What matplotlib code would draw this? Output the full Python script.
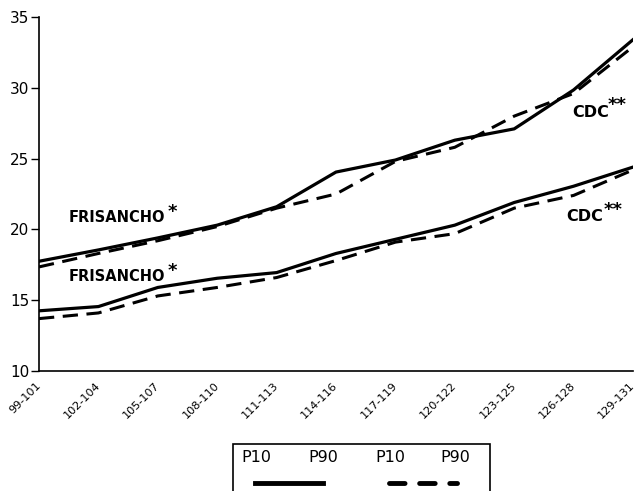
import matplotlib
matplotlib.use('Agg')
import matplotlib.pyplot as plt
from matplotlib.lines import Line2D
from matplotlib.patches import Rectangle

# age groups (months) on the x axis
groups = ['99-101', '102-104', '105-107', '108-110', '111-113', '114-116',
          '117-119', '120-122', '123-125', '126-128', '129-131']

fris_p90 = [17.75, 18.55, 19.4, 20.3, 21.6, 24.05, 24.9, 26.3, 27.1, 29.85, 33.4]
cdc_p90 = [17.35, 18.3, 19.2, 20.2, 21.5, 22.5, 24.8, 25.8, 28.0, 29.6, 32.9]
fris_p10 = [14.25, 14.55, 15.9, 16.55, 16.95, 18.3, 19.3, 20.3, 21.9, 23.05, 24.4]
cdc_p10 = [13.7, 14.1, 15.3, 15.9, 16.6, 17.8, 19.1, 19.7, 21.5, 22.4, 24.2]

y_ticks = [10, 15, 20, 25, 30, 35]

plt.rcParams['font.family'] = ['DejaVu Sans']

fig = plt.figure(figsize=(6.39, 4.91), dpi=100)
ax = fig.add_axes([39 / 639, 1 - 371 / 491, 594 / 639, 354 / 491])

x = list(range(len(groups)))
ax.plot(x, fris_p90, color='black', lw=2.3, solid_joinstyle='round')
ax.plot(x, fris_p10, color='black', lw=2.3, solid_joinstyle='round')
ax.plot(x, cdc_p90, color='black', lw=2.2, dashes=(5, 2.8))
ax.plot(x, cdc_p10, color='black', lw=2.2, dashes=(5, 2.8))

ax.set_xlim(0, len(groups) - 1)
ax.set_ylim(10, 35)
ax.set_yticks(y_ticks)
ax.set_yticklabels([str(v) for v in y_ticks], fontsize=11)
ax.set_xticks(x)
ax.set_xticklabels(groups, rotation=45, ha='right', va='center',
                   rotation_mode='anchor', fontsize=8.1)
ax.tick_params(axis='x', length=0, pad=9)
ax.tick_params(axis='y', length=6, width=1, pad=1)
for side in ['top', 'right']:
    ax.spines[side].set_visible(False)
ax.spines['left'].set_linewidth(1.2)
ax.spines['bottom'].set_linewidth(1.2)

# curve labels
lab = dict(fontsize=10.5, fontweight='bold', color='black')
cdc = dict(fontsize=11.5, fontweight='bold', color='black')
star = dict(fontsize=13, fontweight='bold', color='black')
ax.text(0.5, 20.5, 'FRISANCHO', **lab)
ax.text(2.17, 20.85, '*', **star)
ax.text(0.5, 16.35, 'FRISANCHO', **lab)
ax.text(2.17, 16.7, '*', **star)
ax.text(8.97, 27.95, 'CDC', **cdc)
ax.text(9.57, 28.4, '**', **star)
ax.text(8.87, 20.6, 'CDC', **cdc)
ax.text(9.5, 21.05, '**', **star)

# legend box, cut at the bottom like the scan
lax = fig.add_axes([233 / 639, 0, 257 / 639, 47 / 491])
lax.set_xlim(0, 257)
lax.set_ylim(0, 47)
lax.axis('off')
lax.add_patch(Rectangle((0, -5), 257, 52, fill=False, lw=1.2, color='black',
                        clip_on=False))
for xt, t in [(8, 'P10'), (75, 'P90'), (142, 'P10'), (207, 'P90')]:
    lax.text(xt, 33, t, fontsize=11.5, va='center', ha='left')
lax.add_line(Line2D([22, 90], [8, 8], color='black', lw=3.5))
lax.add_line(Line2D([156, 224], [8, 8], color='black', lw=3.5,
                    dashes=(3.2, 3.0), dash_capstyle='round'))

fig.savefig('out.png', dpi=100)
